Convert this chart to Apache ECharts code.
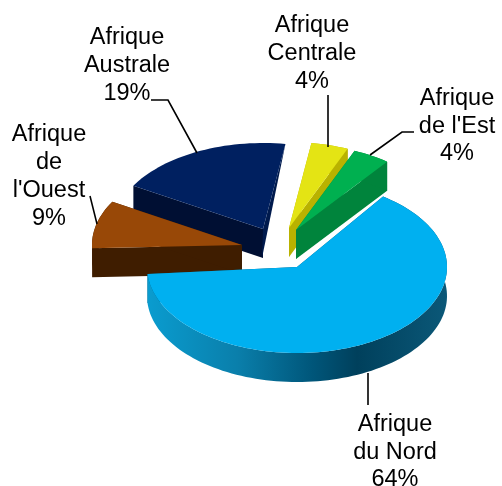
<!DOCTYPE html>
<html><head><meta charset="utf-8">
<style>html,body{margin:0;padding:0;background:#fff}#c{width:502px;height:486px}</style>
<script src="https://cdn.jsdelivr.net/npm/echarts@6/dist/echarts.min.js"></script>
</head><body><div id="c"></div>
<script>
const categories = ["Afrique du Nord","Afrique de l'Ouest","Afrique Australe","Afrique Centrale","Afrique de l'Est"];
const values = [64, 9, 19, 4, 4];
const labelLines = [["Afrique","du Nord","64%"],["Afrique","de","l'Ouest","9%"],["Afrique","Australe","19%"],["Afrique","Centrale","4%"],["Afrique","de l'Est","4%"]];

// layout (not data)
const RX = 150, RY = 86, DEPTH = 29, START = 55; // start angle, clockwise, in the ellipse's parameter space
const apex = [[297,267],[242,245],[263,229],[289,228],[296,230]];
const nudge = [0,-2.4,-2.4,-2.4,-2.4];
const paint = [5,2,1,3,4]; // depth order per slice
const topColor = ['#00b0f0','#984807','#002060','#e4e414','#00b050'];
const wallColor = ['#005a7c','#3f1d00','#000f33','#b9b200','#00843c'];
const labelPos = [[395,425,27.5],[49,135,28],[127,38,28],[312,26,28],[457,99,27.5]];
const leaders = [[[368,373],[368,405]],[[90,196],[97,224]],[[151,100],[168,100],[197,153]],[[328,95],[328,147]],[[414,132],[402,132],[370,155]]];
const northWall = {type:'linear',x:0,y:0,x2:1,y2:0,colorStops:[
  {offset:0,color:'#0a9ccf'},{offset:0.3,color:'#0a7fab'},{offset:0.55,color:'#00567a'},
  {offset:0.7,color:'#00405c'},{offset:1,color:'#0b5878'}]};

const total = values.reduce((a,b)=>a+b,0);
function arcPoints(c,a0,a1,dy){
  const pts=[],n=Math.max(4,Math.ceil(Math.abs(a1-a0)/2));
  for(let k=0;k<=n;k++){const t=(a0+(a1-a0)*k/n)*Math.PI/180;
    pts.push([c[0]+RX*Math.cos(t),c[1]-RY*Math.sin(t)+dy]);}
  return pts;
}
function renderItem(params,api){
  const i=params.dataIndex;
  let before=0;for(let k=0;k<i;k++)before+=values[k];
  const a0=START+nudge[i]-before/total*360, a1=a0-api.value(1)/total*360;
  const c=apex[i],z=paint[i]*10;
  const arc=arcPoints(c,a0,a1,0);
  const p0=arc[0],p1=arc[arc.length-1];
  const kids=[];
  const poly=(pts,fill,zz)=>kids.push({type:'polygon',silent:true,z2:zz,shape:{points:pts},style:{fill:fill}});
  const wall=(p,fill,zz)=>poly([p,c,[c[0],c[1]+DEPTH],[p[0],p[1]+DEPTH]],fill,zz);
  wall(p0,wallColor[i],z+1);
  if(i===2){ // the near cut of this slice narrows to nothing at its outer corner
    poly([p1,c,[c[0]-1,c[1]+DEPTH]],'#001a4d',z+1);
  } else {
    wall(p1,wallColor[i],z+1);
  }
  if(i!==2) poly(arc.concat(arcPoints(c,a1,a0,DEPTH)),i===0?northWall:wallColor[i],z+2);
  poly(arc.concat([c]),topColor[i],z+3);
  kids.push({type:'polyline',silent:true,z2:100,shape:{points:leaders[i]},style:{stroke:'#000',lineWidth:1.6,fill:'none'}});
  labelLines[i].forEach((t,j)=>kids.push({type:'text',silent:true,z2:101,
    style:{text:t,x:labelPos[i][0],y:labelPos[i][1]+j*labelPos[i][2],align:'center',verticalAlign:'middle',
      fill:'#000',font:'23.5px "Liberation Sans"'}}));
  return {type:'group',children:kids};
}
const chart=echarts.init(document.getElementById('c'),null,{renderer:'canvas'});
chart.setOption({animation:false,backgroundColor:'#fff',
  series:[{type:'custom',coordinateSystem:'none',renderItem:renderItem,
    data:categories.map((n,i)=>({name:n,value:[i,values[i]]}))}]});
</script></body></html>
